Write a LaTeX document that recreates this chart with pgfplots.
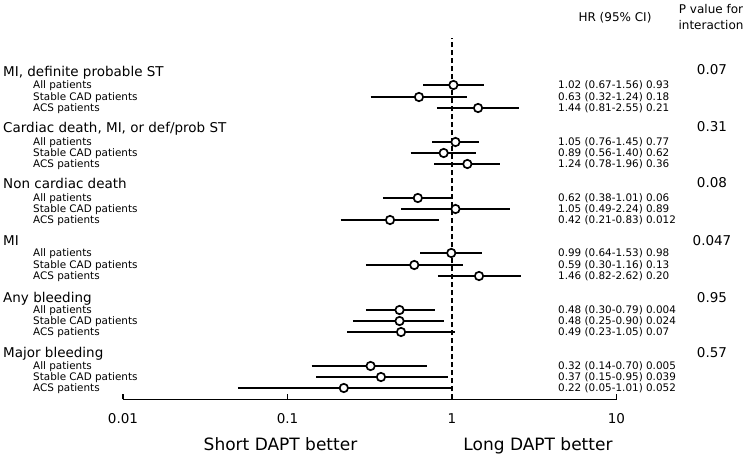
\documentclass[border=0pt]{standalone}
\usepackage{pgfplots}
\pgfplotsset{compat=1.18}
\usepackage{pgfplotstable}
\usepackage{fontspec}
\setmainfont{DejaVu Sans}
\newcommand\fhdr{\fontsize{13.5bp}{15bp}\selectfont}
\newcommand\fsml{\fontsize{10.4bp}{11bp}\selectfont}
\newcommand\fmid{\fontsize{12bp}{13bp}\selectfont}
\newcommand\fbig{\fontsize{17bp}{19bp}\selectfont}

\pgfplotstableread{
y hr lo hi
-85 1.02 0.67 1.56
-97 0.63 0.32 1.24
-108 1.44 0.81 2.55
-142 1.05 0.76 1.45
-153 0.89 0.56 1.40
-164 1.24 0.78 1.96
-198 0.62 0.38 1.01
-209 1.05 0.49 2.24
-220 0.42 0.21 0.83
-253 0.99 0.64 1.53
-265 0.59 0.30 1.16
-276 1.46 0.82 2.62
-310 0.48 0.30 0.79
-321 0.48 0.25 0.90
-332 0.49 0.23 1.05
-366 0.32 0.14 0.70
-377 0.37 0.15 0.95
-388 0.22 0.05 1.01
}\data

\begin{document}
\begin{tikzpicture}
\path[use as bounding box] (0,0) rectangle (748bp,-459bp);
\begin{axis}[
  at={(123bp,-399.3bp)}, anchor=south west,
  scale only axis, width=493.5bp, height=361.3bp,
  xmode=log, xmin=0.01, xmax=10, ymin=-399.3, ymax=-38,
  axis x line=bottom, axis y line=none,
  axis line style={-, line width=1.6bp, black},
  xtick={0.01,0.1,1,10}, xticklabels={0.01,0.1,1,10},
  xminorticks=false,
  xtick align=inside, major tick length=5bp,
  tick style={line width=1.6bp, black},
  xticklabel shift=11bp,
  xticklabel style={font=\fhdr},
  clip=false,
  empty line=jump,
]
\addplot[black, line width=1.8bp, dash pattern=on 5bp off 3bp] coordinates {(1,-399.3) (1,-38)};
\addplot[black, line width=1.8bp] table[x=x,y=y] {
x y
0.67 -85
1.56 -85

0.32 -97
1.24 -97

0.81 -108
2.55 -108

0.76 -142
1.45 -142

0.56 -153
1.40 -153

0.78 -164
1.96 -164

0.38 -198
1.01 -198

0.49 -209
2.24 -209

0.21 -220
0.83 -220

0.64 -253
1.53 -253

0.30 -265
1.16 -265

0.82 -276
2.62 -276

0.30 -310
0.79 -310

0.25 -321
0.90 -321

0.23 -332
1.05 -332

0.14 -366
0.70 -366

0.15 -377
0.95 -377

0.05 -388
1.01 -388
};
\addplot[only marks, mark=*, mark size=4.2bp, mark options={fill=white, draw=black, line width=1.7bp}] table[x=hr,y=y] {\data};
\end{axis}

% headers
\node[anchor=base west, inner sep=0pt] at (3bp,-76bp) {\fhdr MI, definite probable ST};
\node[anchor=base west, inner sep=0pt] at (3bp,-132bp) {\fhdr Cardiac death, MI, or def/prob ST};
\node[anchor=base west, inner sep=0pt] at (3bp,-188bp) {\fhdr Non cardiac death};
\node[anchor=base west, inner sep=0pt] at (3bp,-245bp) {\fhdr MI};
\node[anchor=base west, inner sep=0pt] at (3bp,-302bp) {\fhdr Any bleeding};
\node[anchor=base west, inner sep=0pt] at (3bp,-357bp) {\fhdr Major bleeding};

% sub labels
\foreach \yy in {85,142,198,253,310,366}{
  \node[anchor=base west, inner sep=0pt] at (33bp,{-(\yy+3.3)*1bp}) {\fsml All patients};
}
\foreach \yy in {97,153,209,265,321,377}{
  \node[anchor=base west, inner sep=0pt] at (33bp,{-(\yy+3.3)*1bp}) {\fsml Stable CAD patients};
}
\foreach \yy in {108,164,220,276,332,388}{
  \node[anchor=base west, inner sep=0pt] at (33bp,{-(\yy+3.3)*1bp}) {\fsml ACS patients};
}

% HR text
\foreach \yy/\t in {85/{1.02 (0.67-1.56) 0.93}, 97/{0.63 (0.32-1.24) 0.18}, 108/{1.44 (0.81-2.55) 0.21},
  142/{1.05 (0.76-1.45) 0.77}, 153/{0.89 (0.56-1.40) 0.62}, 164/{1.24 (0.78-1.96) 0.36},
  198/{0.62 (0.38-1.01) 0.06}, 209/{1.05 (0.49-2.24) 0.89}, 220/{0.42 (0.21-0.83) 0.012},
  253/{0.99 (0.64-1.53) 0.98}, 265/{0.59 (0.30-1.16) 0.13}, 276/{1.46 (0.82-2.62) 0.20},
  310/{0.48 (0.30-0.79) 0.004}, 321/{0.48 (0.25-0.90) 0.024}, 332/{0.49 (0.23-1.05) 0.07},
  366/{0.32 (0.14-0.70) 0.005}, 377/{0.37 (0.15-0.95) 0.039}, 388/{0.22 (0.05-1.01) 0.052}}{
  \node[anchor=base west, inner sep=0pt] at (558bp,{-(\yy+3.3)*1bp}) {\fsml \t};
}

% p values
\foreach \yy/\t in {74/0.07, 131/0.31, 187/0.08, 245/0.047, 302/0.95, 357/0.57}{
  \node[anchor=base, inner sep=0pt] at (712bp,{-\yy*1bp}) {\fhdr \t};
}

% column headers
\node[anchor=base, inner sep=0pt] at (615bp,-21bp) {\fmid HR (95\% CI)};
\node[anchor=base, inner sep=0pt] at (711bp,-13bp) {\fmid P value for};
\node[anchor=base, inner sep=0pt] at (711bp,-29bp) {\fmid interaction};

% axis captions
\node[anchor=base, inner sep=0pt] at (280.5bp,-450bp) {\fbig Short DAPT better};
\node[anchor=base, inner sep=0pt] at (538bp,-450bp) {\fbig Long DAPT better};
\end{tikzpicture}
\end{document}
